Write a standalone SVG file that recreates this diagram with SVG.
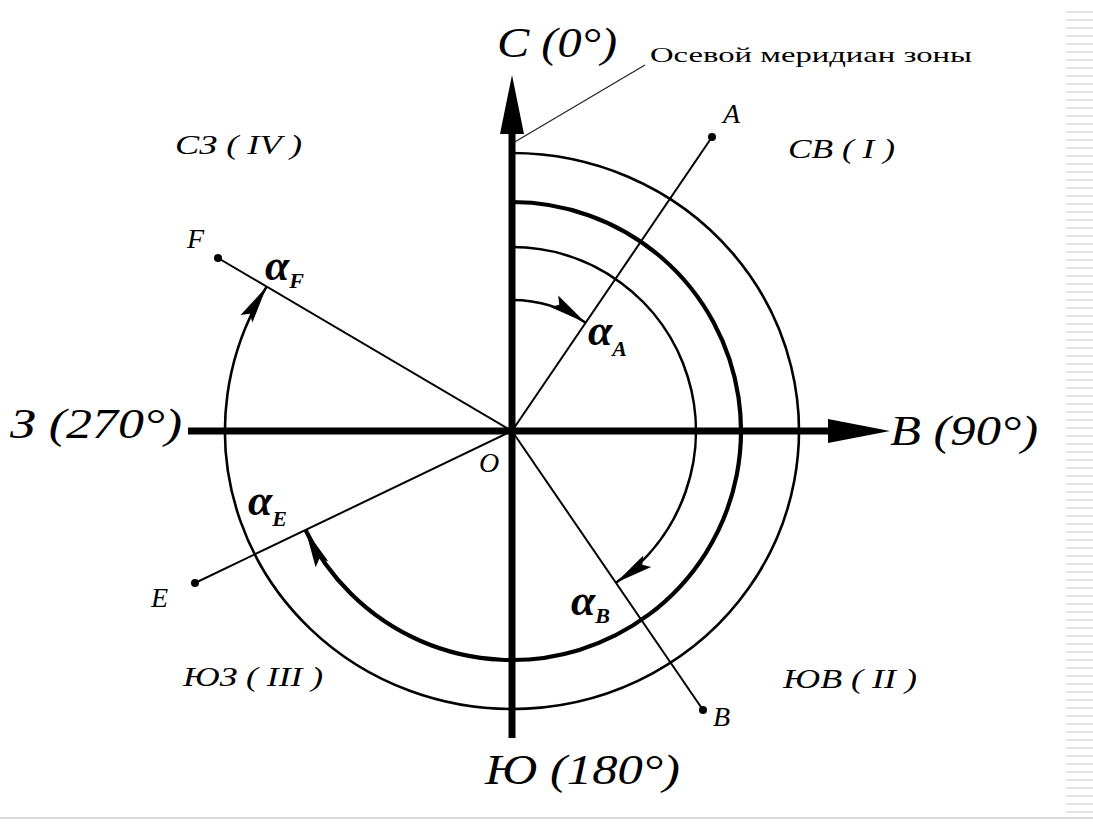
<svg xmlns="http://www.w3.org/2000/svg" width="1093" height="825" viewBox="0 0 1093 825">
<style>
.bg{fill:#ffffff}
.axis{stroke:#000;stroke-width:7;fill:none}
.head{fill:#000}
.ray{stroke:#000;stroke-width:2;fill:none}
.arc{stroke:#000;stroke-width:2.6;fill:none}
.arcb{stroke:#000;stroke-width:4.2;fill:none}
.lead{stroke:#222;stroke-width:1.2;fill:none}
.dot{fill:#000}
.stripe{stroke:#c8c8c8;stroke-width:1.2}
.ax{font-family:"Liberation Serif",serif;font-style:italic;font-size:42px;fill:#000}
.q{font-family:"Liberation Serif",serif;font-style:italic;font-size:28px;fill:#000}
.pt{font-family:"Liberation Serif",serif;font-style:italic;font-size:28px;fill:#000}
.al{font-family:"Liberation Serif",serif;font-style:italic;font-weight:bold;font-size:44px;fill:#000}
.sub{font-size:22px;font-weight:bold}
.note{font-family:"Liberation Serif",serif;font-size:21px;fill:#000}
</style>
<defs>
<marker id="ah" markerUnits="userSpaceOnUse" markerWidth="42" markerHeight="18" viewBox="-40 -9 42 18" refX="0" refY="0" orient="auto">
<path d="M0,0 L-38,-7 L-32,0 L-38,7 Z" fill="#000"/>
</marker>
</defs>
<rect class="bg" x="0" y="0" width="1093" height="825"/>

<g id="decor">
<line x1="0" y1="818" x2="1093" y2="818" stroke="#d8d8d8" stroke-width="2"/>
<g id="stripes">
<path class="stripe" d="M1066,12H1093M1066,20H1093M1066,28H1093M1066,36H1093M1066,44H1093M1066,52H1093M1066,60H1093M1066,68H1093M1066,76H1093M1066,84H1093M1066,92H1093M1066,100H1093M1066,108H1093M1066,116H1093M1066,124H1093M1066,132H1093M1066,140H1093M1066,148H1093M1066,156H1093M1066,164H1093M1066,172H1093M1066,180H1093M1066,188H1093M1066,196H1093M1066,204H1093M1066,212H1093M1066,220H1093M1066,228H1093M1066,236H1093M1066,244H1093M1066,252H1093M1066,260H1093M1066,268H1093M1066,276H1093M1066,284H1093M1066,292H1093M1066,300H1093M1066,308H1093M1066,316H1093M1066,324H1093M1066,332H1093M1066,340H1093M1066,348H1093M1066,356H1093M1066,364H1093M1066,372H1093M1066,380H1093M1066,388H1093M1066,396H1093M1066,404H1093M1066,412H1093M1066,420H1093M1066,428H1093M1066,436H1093M1066,444H1093M1066,452H1093M1066,460H1093M1066,468H1093M1066,476H1093M1066,484H1093M1066,492H1093M1066,500H1093M1066,508H1093M1066,516H1093M1066,524H1093M1066,532H1093M1066,540H1093M1066,548H1093M1066,556H1093M1066,564H1093M1066,572H1093M1066,580H1093M1066,588H1093M1066,596H1093M1066,604H1093M1066,612H1093M1066,620H1093M1066,628H1093M1066,636H1093M1066,644H1093M1066,652H1093M1066,660H1093M1066,668H1093M1066,676H1093M1066,684H1093M1066,692H1093M1066,700H1093M1066,708H1093M1066,716H1093M1066,724H1093M1066,732H1093M1066,740H1093M1066,748H1093M1066,756H1093M1066,764H1093M1066,772H1093M1066,780H1093M1066,788H1093M1066,796H1093M1066,804H1093M1066,812H1093"/>
</g>
</g>

<g id="connectors">
<g id="arcs">
<path class="arc" d="M512,300 A131,131 0 0,1 585.7,322.7" marker-end="url(#ah)"/>
<path class="arc" d="M512,247 A184,184 0 0,1 615.9,582.8" marker-end="url(#ah)"/>
<path class="arcb" d="M512,202 A229,229 0 1,1 305.5,530" marker-end="url(#ah)"/>
<path class="arc" d="M512,153 A287,278 0 1,1 266.7,286.6" marker-end="url(#ah)"/>
</g>
<g id="rays">
<line class="ray" x1="512" y1="431" x2="712" y2="137"/>
<line class="ray" x1="512" y1="431" x2="703" y2="710"/>
<line class="ray" x1="512" y1="431" x2="195" y2="583"/>
<line class="ray" x1="512" y1="431" x2="218" y2="258"/>
<line class="lead" x1="513" y1="143" x2="645" y2="65"/>
</g>
<g id="axes">
<line class="axis" x1="512" y1="128" x2="512" y2="738"/>
<polygon class="head" points="512,75 500,134 524,134"/>
<line class="axis" x1="188" y1="431" x2="832" y2="431"/>
<polygon class="head" points="890,431 828,419 828,443"/>
</g>
</g>

<g id="point-A"><circle class="dot" cx="712" cy="137" r="4"/><text class="pt" x="723" y="123">A</text></g>
<g id="point-B"><circle class="dot" cx="703" cy="710" r="4"/><text class="pt" x="713" y="726">B</text></g>
<g id="point-E"><circle class="dot" cx="195" cy="583" r="4"/><text class="pt" x="151" y="607">E</text></g>
<g id="point-F"><circle class="dot" cx="218" cy="258" r="4"/><text class="pt" x="187" y="248">F</text></g>
<g id="point-O"><text class="pt" x="479" y="472">O</text></g>

<g id="angle-A"><text class="al" x="588" y="345">α<tspan class="sub" dy="11">A</tspan></text></g>
<g id="angle-B"><text class="al" x="571" y="615">α<tspan class="sub" dy="8">B</tspan></text></g>
<g id="angle-E"><text class="al" x="248" y="515">α<tspan class="sub" dy="11">E</tspan></text></g>
<g id="angle-F"><text class="al" x="265" y="280">α<tspan class="sub" dy="8">F</tspan></text></g>

<g id="label-N"><text class="ax" x="497" y="57" textLength="120" lengthAdjust="spacingAndGlyphs">С (0°)</text></g>
<g id="label-E"><text class="ax" x="890" y="445" textLength="148" lengthAdjust="spacingAndGlyphs">В (90°)</text></g>
<g id="label-S"><text class="ax" x="485" y="784" textLength="195" lengthAdjust="spacingAndGlyphs">Ю (180°)</text></g>
<g id="label-W"><text class="ax" x="10" y="438" textLength="172" lengthAdjust="spacingAndGlyphs">З (270°)</text></g>

<g id="quad-NW"><text class="q" x="175" y="154" textLength="127" lengthAdjust="spacingAndGlyphs">СЗ ( IV )</text></g>
<g id="quad-NE"><text class="q" x="788" y="158" textLength="107" lengthAdjust="spacingAndGlyphs">СВ ( I )</text></g>
<g id="quad-SW"><text class="q" x="183" y="686" textLength="140" lengthAdjust="spacingAndGlyphs">ЮЗ ( III )</text></g>
<g id="quad-SE"><text class="q" x="783" y="688" textLength="134" lengthAdjust="spacingAndGlyphs">ЮВ ( II )</text></g>

<g id="note"><text class="note" x="650" y="62" textLength="322" lengthAdjust="spacingAndGlyphs">Осевой меридиан зоны</text></g>
</svg>
